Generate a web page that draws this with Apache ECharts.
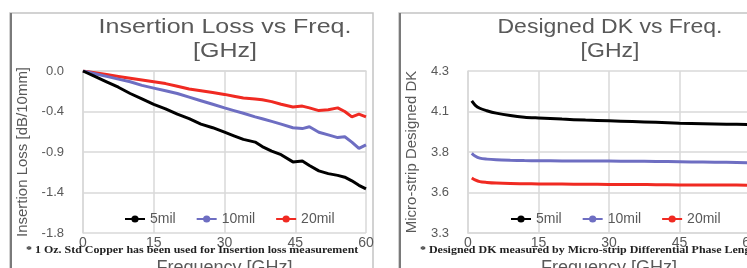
<!DOCTYPE html>
<html>
<head>
<meta charset="utf-8">
<script src="https://cdn.jsdelivr.net/npm/echarts@6/dist/echarts.min.js"></script>
<style>
  html, body { margin: 0; padding: 0; background: #fff; }
  #chart { width: 747px; height: 268px; }
</style>
</head>
<body>
<div id="chart"></div>
<script>
// 插损 (Insertion Loss) data, GHz
var ilFreq = [0, 2.5, 5, 7.5, 10, 12.5, 15, 17.5, 20, 22.5, 25, 27.5, 30, 32, 34, 36.5, 38, 40, 42, 44.5, 46.5, 48, 50, 52, 54, 55.5, 57, 58.5, 60];
var il5mil = [0, -0.06, -0.12, -0.18, -0.25, -0.31, -0.37, -0.42, -0.48, -0.53, -0.59, -0.63, -0.68, -0.72, -0.76, -0.79, -0.84, -0.89, -0.93, -1.01, -1.00, -1.05, -1.11, -1.14, -1.16, -1.18, -1.22, -1.27, -1.31];
var il10mil = [0, -0.03, -0.06, -0.09, -0.12, -0.16, -0.19, -0.22, -0.25, -0.29, -0.33, -0.37, -0.41, -0.44, -0.47, -0.51, -0.53, -0.56, -0.59, -0.63, -0.64, -0.62, -0.68, -0.71, -0.74, -0.73, -0.79, -0.86, -0.82];
var il20mil = [0, -0.02, -0.04, -0.06, -0.08, -0.10, -0.12, -0.14, -0.17, -0.20, -0.22, -0.24, -0.26, -0.28, -0.30, -0.31, -0.32, -0.34, -0.37, -0.40, -0.39, -0.41, -0.44, -0.43, -0.41, -0.45, -0.51, -0.48, -0.51];
var ilTicks = ['-1.8', '-1.4', '-0.9', '-0.4', '0.0'];

// DK data
var dkFreq = [0.8, 1.5, 2.5, 4, 6, 9, 12, 15, 20, 25, 30, 35, 40, 45, 50, 55, 60];
var dk5mil = [4.115, 4.09, 4.07, 4.055, 4.04, 4.025, 4.015, 4.01, 4.003, 3.997, 3.993, 3.988, 3.983, 3.978, 3.975, 3.972, 3.97];
var dk10mil = [3.792, 3.775, 3.762, 3.756, 3.752, 3.749, 3.747, 3.746, 3.745, 3.744, 3.744, 3.743, 3.742, 3.740, 3.738, 3.736, 3.734];
var dk20mil = [3.64, 3.628, 3.617, 3.612, 3.608, 3.605, 3.604, 3.603, 3.602, 3.601, 3.600, 3.600, 3.598, 3.597, 3.596, 3.596, 3.595];
var dkTicks = ['3.3', '3.6', '3.8', '4.1', '4.3'];

var xTicks = ['0', '15', '30', '45', '60'];
var names = ['5mil', '10mil', '20mil'];
var colors = ['#000000', '#6e6ec2', '#f02a22'];

var font = 'Liberation Sans, Arial, sans-serif';
var gray = '#595959';

function pairs(xs, ys) {
  return xs.map(function (x, i) { return [x, ys[i]]; });
}

function tickFmt(labels, min, step) {
  return function (v) {
    var i = Math.round((v - min) / step);
    return labels[i] !== undefined ? labels[i] : '';
  };
}

function xAxisCfg(gridIndex) {
  return {
    type: 'value', gridIndex: gridIndex, min: 0, max: 60, interval: 15,
    name: 'Frequency [GHz]', nameLocation: 'middle', nameGap: 26,
    nameTextStyle: { fontSize: 18, color: gray, fontFamily: font },
    axisLine: { show: true, lineStyle: { color: '#d9d9d9', width: 1.5 } },
    axisTick: { show: false },
    axisLabel: { color: gray, fontSize: 14, fontFamily: font, margin: 3, formatter: tickFmt(xTicks, 0, 15) },
    splitLine: { show: true, lineStyle: { color: '#d9d9d9', width: 1.5 } }
  };
}

function yAxisCfg(gridIndex, name, min, max, step, labels, gap) {
  return {
    type: 'value', gridIndex: gridIndex, min: min, max: max, interval: step,
    name: name, nameLocation: 'middle', nameGap: gap,
    nameTextStyle: { fontSize: 15, color: gray, fontFamily: font },
    axisLine: { show: true, lineStyle: { color: '#d9d9d9', width: 1.5 } },
    axisTick: { show: false },
    axisLabel: { color: gray, fontSize: 13, fontFamily: font, margin: 19, formatter: tickFmt(labels, min, step) },
    splitLine: { show: true, lineStyle: { color: '#d9d9d9', width: 1.5 } }
  };
}

var series = [];
[il5mil, il10mil, il20mil].forEach(function (d, i) {
  series.push({
    name: names[i], type: 'line', xAxisIndex: 0, yAxisIndex: 0,
    data: pairs(ilFreq, d), symbol: 'circle', showSymbol: false, symbolSize: 8,
    lineStyle: { width: 3, color: colors[i] }, itemStyle: { color: colors[i] },
    z: 10 - i, animation: false
  });
});
[dk5mil, dk10mil, dk20mil].forEach(function (d, i) {
  series.push({
    name: names[i], type: 'line', xAxisIndex: 1, yAxisIndex: 1,
    data: pairs(dkFreq, d), symbol: 'circle', showSymbol: false, symbolSize: 8,
    lineStyle: { width: 3, color: colors[i] }, itemStyle: { color: colors[i] },
    smooth: 0.3, animation: false
  });
});

function legendCfg(left) {
  return {
    data: names, left: left, top: 207, itemWidth: 20, itemHeight: 9, itemGap: 20, itemTextGap: 5,
    textStyle: { color: gray, fontSize: 14, fontFamily: font }
  };
}

var option = {
  backgroundColor: '#fff',
  animation: false,
  grid: [
    { left: 83, top: 71, width: 283, height: 162, outerBoundsMode: 'none' },
    { left: 468, top: 71, width: 282, height: 162, outerBoundsMode: 'none' }
  ],
  xAxis: [xAxisCfg(0), xAxisCfg(1)],
  yAxis: [
    yAxisCfg(0, 'Insertion Loss [dB/10mm]', -1.8, 0, 0.45, ilTicks, 53),
    yAxisCfg(1, 'Micro-strip Designed DK', 3.3, 4.3, 0.25, dkTicks, 49)
  ],
  legend: [legendCfg(119), legendCfg(505)],
  series: series,
  graphic: [
    // 面板边框
    { type: 'rect', z: -10, shape: { x: 10, y: 13, width: 363, height: 270 }, style: { fill: '#fff', stroke: '#c4c4c4', lineWidth: 1.5 } },
    { type: 'line', z: -9, shape: { x1: 11, y1: 13, x2: 11, y2: 268 }, style: { stroke: '#7a7a7a', lineWidth: 2 } },
    { type: 'rect', z: -10, shape: { x: 399, y: 13, width: 360, height: 270 }, style: { fill: '#fff', stroke: '#c4c4c4', lineWidth: 1.5 } },
    { type: 'line', z: -9, shape: { x1: 400, y1: 13, x2: 400, y2: 268 }, style: { stroke: '#7a7a7a', lineWidth: 2 } },
    // 被截断的上方文字
    { type: 'text', style: { text: '率值一直很小，从频率数据图可以说明其优异的数据性能。', x: 95, y: -17, font: '16px "Noto Sans CJK SC"', fill: '#222' } },
    // 标题
    { type: 'text', x: 225, y: 15, scaleX: 1.25, style: { text: 'Insertion Loss vs Freq.\n[GHz]', x: 0, y: 0, textAlign: 'center', font: '20px ' + font, lineHeight: 24, fill: gray } },
    { type: 'text', x: 610, y: 15, scaleX: 1.15, style: { text: 'Designed DK vs Freq.\n[GHz]', x: 0, y: 0, textAlign: 'center', font: '20px ' + font, lineHeight: 24, fill: gray } },
    // 注释
    { type: 'text', z: 20, x: 26, y: 245, scaleX: 1.14, style: { text: '* 1 Oz. Std Copper has been used for Insertion loss measurement', x: 0, y: 0, font: 'bold 10.5px "Liberation Serif", serif', fill: '#222' } },
    { type: 'text', z: 20, x: 420, y: 245, scaleX: 1.14, style: { text: '* Designed DK measured by Micro-strip Differential Phase Length', x: 0, y: 0, font: 'bold 10.5px "Liberation Serif", serif', fill: '#222' } }
  ]
};

var myChart = echarts.init(document.getElementById('chart'));
myChart.setOption(option);
</script>
</body>
</html>
